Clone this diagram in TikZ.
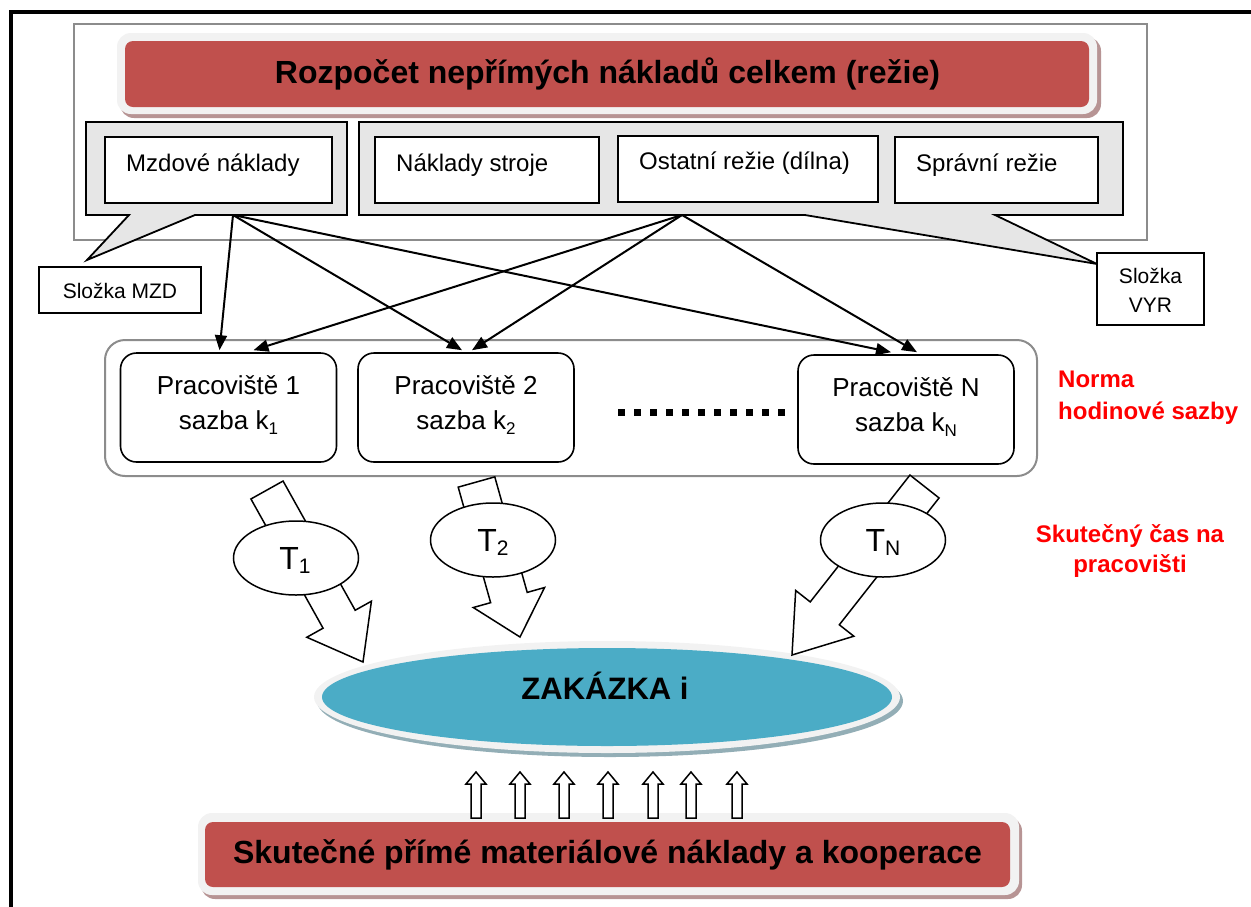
\documentclass[tikz,border=0pt]{standalone}
\usepackage{fontspec}
\setmainfont{Liberation Sans}
\usetikzlibrary{calc,arrows.meta,shapes.geometric}

\definecolor{accred}{HTML}{C0504D}
\definecolor{accblue}{HTML}{4BACC6}
\definecolor{glow}{HTML}{F2F2F2}
\definecolor{redshadow}{HTML}{B79494}
\definecolor{blueshadow}{HTML}{93AEB6}
\definecolor{calloutgray}{HTML}{E6E6E6}
\definecolor{framegray}{HTML}{8C8C8C}

\newcommand\fsz[1]{\fontsize{#1}{#1}\selectfont}

% block arrow from #1 (tail middle) to #2 (tip): shaft half width #3,
% head half width #4, head length #5
\newcommand\blockarrow[5]{%
  \coordinate (hb) at ($(#2)!#5!(#1)$);
  \draw[line width=1.5, fill=white, line join=miter]
    ($(#1)!#3!90:(#2)$) -- ($(hb)!#3!90:(#2)$) -- ($(hb)!#4!90:(#2)$) -- (#2)
    -- ($(hb)!#4!-90:(#2)$) -- ($(hb)!#3!-90:(#2)$) -- ($(#1)!#3!-90:(#2)$) -- cycle;
}

\begin{document}
\begin{tikzpicture}[x=1pt,y=-1pt,
  wbox/.style={draw, line width=1.8, fill=white, inner sep=0},
  wsbox/.style={draw, line width=1.6, fill=white, rounded corners=16, inner sep=0,
    minimum width=216, minimum height=109},
  callout/.style={draw, line width=1.8, fill=calloutgray, line join=miter},
  conn/.style={line width=2, -{Triangle[length=15pt,width=12pt]}},
  tnode/.style={ellipse, draw, line width=1.5, fill=white, inner sep=0,
    minimum width=125, minimum height=74},
  txt/.style={inner sep=0, font=\fsz{24}},
  redtxt/.style={inner sep=0, text=red, font=\fsz{24}\bfseries},
  bigtxt/.style={inner sep=0, font=\fsz{32}\bfseries},
  upsub/.style={}
]
\useasboundingbox (0,0) rectangle (1251,906);
\clip (0,0) rectangle (1251,906);

% heavy page frame
\draw[line width=4] (10.5,1000) -- (10.5,12) -- (1300,12);

% ---------- overhead budget block ----------
\draw[framegray, line width=2, fill=white] (74,24) rectangle (1147,240);

\fill[redshadow, rounded corners=14] (120,37) rectangle (1101,118);
\fill[glow, rounded corners=14] (117,33) rectangle (1097,114);
\node[fill=accred, rounded corners=8, inner sep=0, minimum width=964, minimum height=66]
  (title) at (607,74) {};
\node[bigtxt, anchor=base] at (607.5,83) {Rozpočet nepřímých nákladů celkem (režie)};

% callouts
\filldraw[callout] (86,122) -- (347,122) -- (347,215) -- (195,215) -- (87,260)
  -- (129,215) -- (86,215) -- cycle;
\filldraw[callout] (359,122) -- (1123,122) -- (1123,215) -- (995,215) -- (1097,264)
  -- (805,215) -- (359,215) -- cycle;
\coordinate (mzdsrc) at (233,215);
\coordinate (ostsrc) at (682,215);

\node[wbox, minimum width=227, minimum height=66] (mzd) at (218.5,170) {};
\node[wbox, minimum width=224, minimum height=66] (stroj) at (487,170) {};
\node[wbox, minimum width=260, minimum height=66] (ost) at (748,169) {};
\node[wbox, minimum width=203, minimum height=66] (spr) at (996.5,170) {};
\node[txt, anchor=base west] at (126,171) {Mzdové náklady};
\node[txt, anchor=base west] at (396,171) {Náklady stroje};
\node[txt, anchor=base west] at (639,169) {Ostatní režie (dílna)};
\node[txt, anchor=base west] at (916,171) {Správní režie};

% component labels
\node[wbox, minimum width=162, minimum height=46] (smzd) at (120,290) {};
\node[txt, font=\fsz{21}, anchor=base] at (120,298) {Složka MZD};
\node[wbox, minimum width=107, minimum height=72] (svyr) at (1150.5,289) {};
\node[txt, font=\fsz{21}, anchor=base] at (1150.5,283) {Složka};
\node[txt, font=\fsz{21}, anchor=base] at (1150.5,312) {VYR};

% ---------- workplaces ----------
\draw[framegray, line width=2, fill=white, rounded corners=20] (105,340) rectangle (1037,476);

\node[wsbox] (p1) at (228.5,407.5) {};
\node[wsbox] (p2) at (466,407.5) {};
\node[wsbox] (pn) at (906,409.5) {};

\node[txt, font=\fsz{26}, anchor=base] at (228.5,394) {Pracoviště 1};
\node[txt, font=\fsz{26}, anchor=base] at (228.5,429) {sazba k\raisebox{-5pt}{\fsz{17}1}};
\node[txt, font=\fsz{26}, anchor=base] at (466,394) {Pracoviště 2};
\node[txt, font=\fsz{26}, anchor=base] at (466,429) {sazba k\raisebox{-5pt}{\fsz{17}2}};
\node[txt, font=\fsz{26}, anchor=base] at (906,396) {Pracoviště N};
\node[txt, font=\fsz{26}, anchor=base] at (906,431) {sazba k\raisebox{-5pt}{\fsz{17}N}};

% ellipsis between workplaces
\foreach \i in {0,...,10} \fill (617.5+16*\i,408.5) rectangle ++(7,7);

% allocation connectors
\draw[conn] (mzdsrc) -- ([xshift=-9pt,yshift=2pt]p1.north);
\draw[conn] (mzdsrc) -- ([xshift=-4pt,yshift=2pt]p2.north);
\draw[conn] (mzdsrc) -- ([xshift=-15pt,yshift=2pt]pn.north);
\draw[conn] (ostsrc) -- ([xshift=25pt,yshift=2pt]p1.north);
\draw[conn] (ostsrc) -- ([xshift=6pt,yshift=2pt]p2.north);
\draw[conn] (ostsrc) -- ([xshift=11pt,yshift=2pt]pn.north);

% side notes
\node[redtxt, anchor=base west] at (1058,387) {Norma};
\node[redtxt, anchor=base west] at (1058,419) {hodinové sazby};
\node[redtxt, anchor=base] at (1130,542) {Skutečný čas na};
\node[redtxt, anchor=base] at (1130,572) {pracovišti};

% ---------- order ----------
\fill[blueshadow] (610,701) ellipse [x radius=293, y radius=56];
\fill[glow] (607,697) ellipse [x radius=293, y radius=56];
\node[ellipse, fill=accblue, inner sep=0, minimum width=570, minimum height=98] (zak) at (607,697) {};
\node[inner sep=0, font=\fsz{31}\bfseries, anchor=base] at (605,699) {ZAKÁZKA i};

% time flows into the order
\coordinate (a1) at (267,490);   \coordinate (b1) at (363,662);
\coordinate (a2) at (476.5,482); \coordinate (b2) at (520,637);
\coordinate (an) at (924.5,486.5); \coordinate (bn) at (792,655);
\blockarrow{a1}{b1}{18.4pt}{37pt}{49pt}
\blockarrow{a2}{b2}{19pt}{37pt}{41pt}
\blockarrow{an}{bn}{18.5pt}{37pt}{53pt}

\node[tnode] (t1) at (296,558) {};
\node[tnode] (t2) at (493,540) {};
\node[tnode] (tn) at (883,540) {};
\node[inner sep=0, font=\fsz{32}, anchor=base] at (295,569) {T\raisebox{-4pt}{\fsz{21}1}};
\node[inner sep=0, font=\fsz{32}, anchor=base] at (493,551) {T\raisebox{-4pt}{\fsz{21}2}};
\node[inner sep=0, font=\fsz{32}, anchor=base] at (883,551) {T\raisebox{-4pt}{\fsz{21}N}};

% ---------- direct costs ----------
\fill[redshadow, rounded corners=14] (201,817) rectangle (1022,899);
\fill[glow, rounded corners=14] (198,813) rectangle (1019,895);
\node[fill=accred, rounded corners=8, inner sep=0, minimum width=805, minimum height=65]
  (direct) at (607.5,854.5) {};
\node[bigtxt, anchor=base] at (607.5,863) {Skutečné přímé materiálové náklady a kooperace};

% material flows
\foreach \x in {476,520,564,608,653,691,737}
  \draw[line width=1.5, fill=white, line join=miter]
    (\x-5,818) -- (\x-5,784) -- (\x-10,784) -- (\x,772) -- (\x+10,784)
    -- (\x+5,784) -- (\x+5,818) -- cycle;
\end{tikzpicture}
\end{document}
